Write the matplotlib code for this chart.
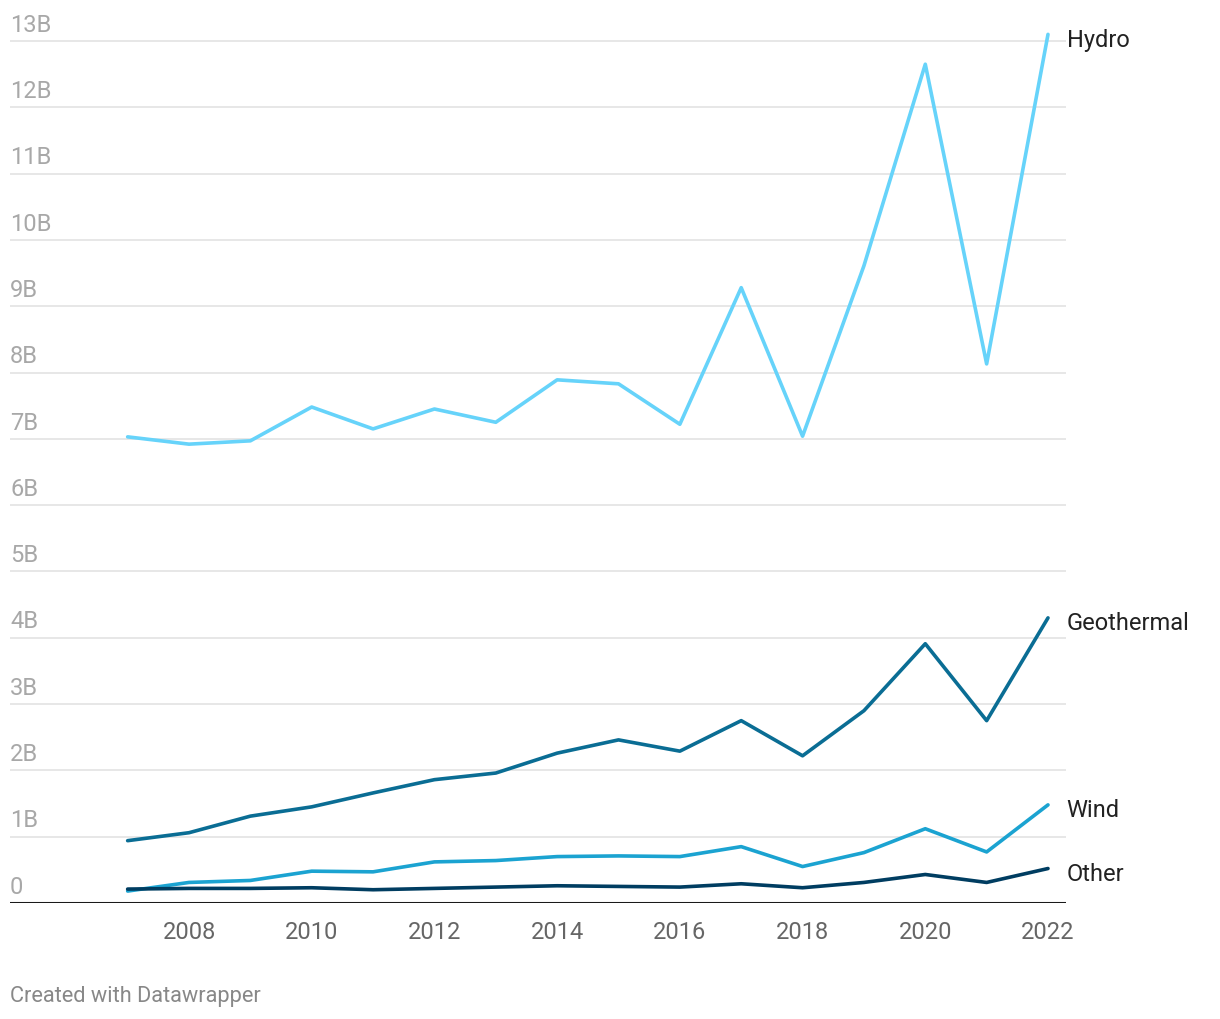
import numpy as np
import matplotlib.pyplot as plt

plt.rcParams['font.family'] = ['Roboto', 'DejaVu Sans']

years = list(range(2007, 2023))
hydro = [7.03, 6.92, 6.97, 7.48, 7.15, 7.45, 7.25, 7.89, 7.83, 7.22,
         9.28, 7.04, 9.61, 12.65, 8.13, 13.1]
geothermal = [0.94, 1.06, 1.31, 1.45, 1.66, 1.86, 1.96, 2.26, 2.46, 2.29,
              2.75, 2.22, 2.90, 3.91, 2.75, 4.30]
wind = [0.18, 0.31, 0.34, 0.48, 0.47, 0.62, 0.64, 0.70, 0.71, 0.70,
        0.85, 0.55, 0.76, 1.12, 0.77, 1.48]
other = [0.21, 0.22, 0.22, 0.23, 0.20, 0.22, 0.24, 0.26, 0.25, 0.24,
         0.29, 0.23, 0.31, 0.43, 0.31, 0.52]

series = [("Hydro", hydro, "#66d3fa"),
          ("Geothermal", geothermal, "#0a6d94"),
          ("Wind", wind, "#1ba3d1"),
          ("Other", other, "#003d61")]
ytick_vals = list(range(0, 14))
ytick_labels = ["0"] + [f"{v}B" for v in range(1, 14)]
xtick_vals = list(range(2008, 2023, 2))

fig = plt.figure(figsize=(12.2, 10.2), dpi=100)
W, H = 1220, 1020
x0, x1 = 10, 1066
y0 = 904
ppb = (904 - 42) / 13.0
ytop = 13.5
ax = fig.add_axes([x0 / W, (H - y0) / H, (x1 - x0) / W, ytop * ppb / H])

# x range so that 2008 -> px 189, 2022 -> px 1048
ppy = (1048 - 189) / 14.0
xmin = 2008 - (189 - x0) / ppy
xmax = 2008 + (x1 - 189) / ppy
ax.set_xlim(xmin, xmax)
ax.set_ylim(0, ytop)

for v in ytick_vals[1:]:
    ax.axhline(v, color="#e3e3e3", lw=1.2, zorder=1)
ax.axhline(0, color="#1a1a1a", lw=2.2, zorder=3)

for name, vals, col in series:
    ax.plot(years, vals, color=col, lw=2.6, solid_capstyle='round',
            solid_joinstyle='round', zorder=4)
    ax.annotate(name, (years[-1], vals[-1]), xytext=(13.5, -3.5),
                textcoords='offset points', va='center', ha='left',
                fontsize=17, color="#222222")

for v, lab in zip(ytick_vals, ytick_labels):
    ax.annotate(lab, (xmin, v), xytext=(0, 3.8), textcoords='offset points',
                ha='left', va='bottom', fontsize=17, color="#a8a8a8")

for v in xtick_vals:
    ax.annotate(str(v), (v, 0), xytext=(0, -12.5), textcoords='offset points',
                ha='center', va='top', fontsize=17, color="#666666")

for s in ax.spines.values():
    s.set_visible(False)
ax.set_xticks([])
ax.set_yticks([])

fig.text(10 / W, 1 - 997 / H, "Created with Datawrapper", fontsize=15.7,
         color="#888888", ha='left', va='center')

fig.savefig("out.png", dpi=100, facecolor="white")
